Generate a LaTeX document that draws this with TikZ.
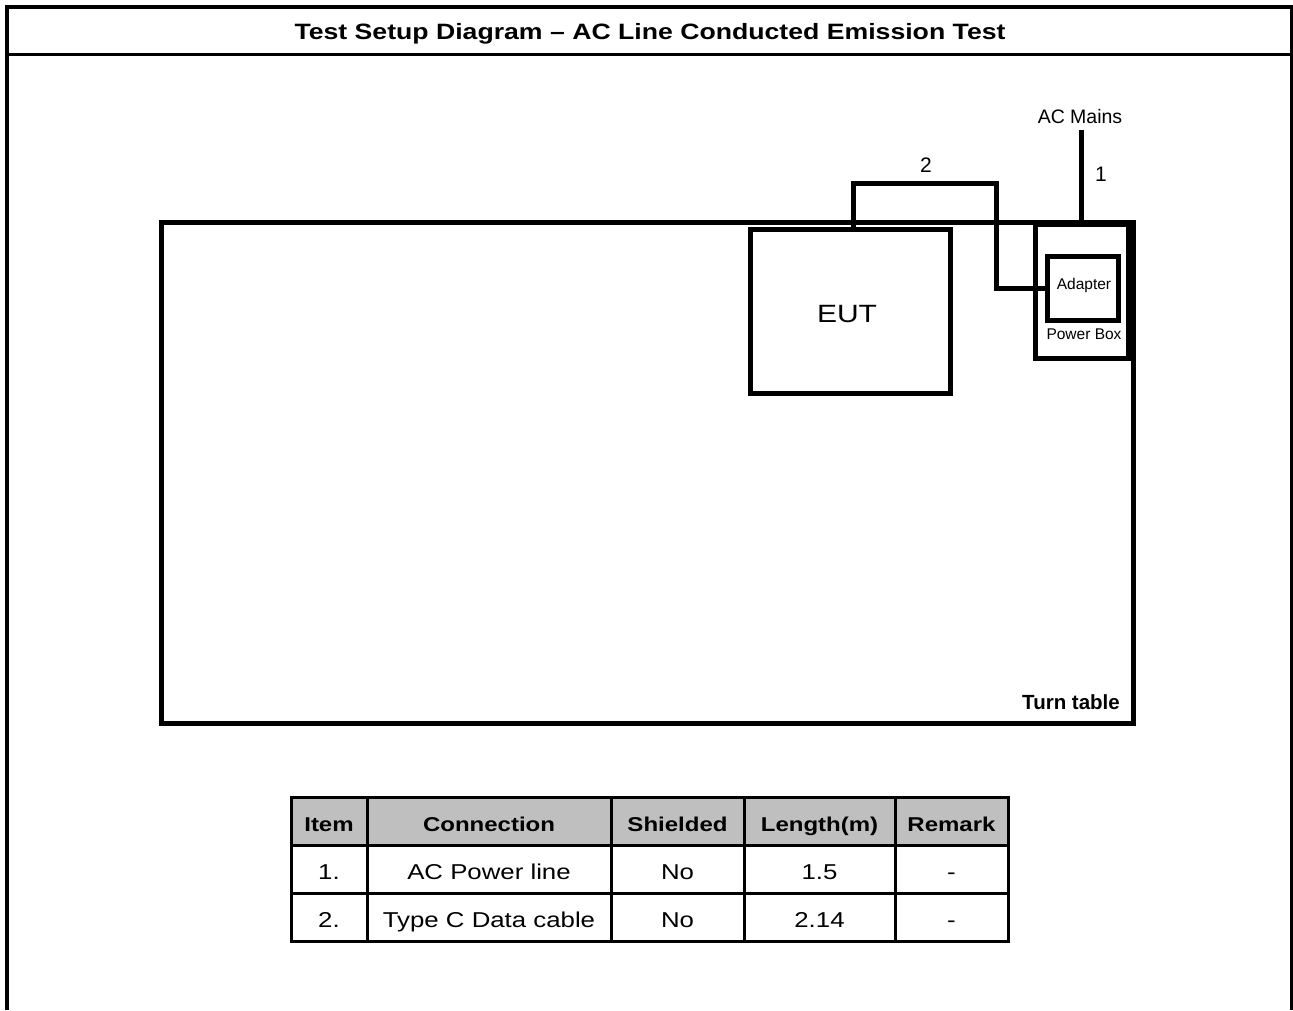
\documentclass[tikz,border=0pt]{standalone}
\usepackage{fontspec}
\defaultfontfeatures{Ligatures=TeX}
\setmainfont{Liberation Sans}
\newfontfamily\docfont[FakeStretch=1.2,Ligatures=TeX]{Liberation Sans}
\begin{document}
\begin{tikzpicture}[x=1pt,y=-1pt,
  frameline/.style={line width=4pt},
  thickbox/.style={draw,line width=5pt,inner sep=0pt,outer sep=0pt},
  cable/.style={line width=5pt},
  lbl/.style={inner sep=0pt,font=\fontsize{#1}{#1}\selectfont},
  hdr/.style={inner sep=0pt,anchor=base,font=\docfont\bfseries\fontsize{20}{24}\selectfont},
  cell/.style={inner sep=0pt,anchor=base,font=\docfont\fontsize{21.5}{25}\selectfont},
  tline/.style={line width=3pt}]
\useasboundingbox (0,0) rectangle (1293,1010);
% page frame
\draw[frameline] (7,1010) -- (7,7) -- (1291,7);
\draw[line width=3pt] (1291,5) -- (1291,1010);
\draw[line width=3pt] (7,54) -- (1291,54);
\node[inner sep=0pt,anchor=base,font=\docfont\bfseries\fontsize{22.2}{26}\selectfont] (title) at (650,39) {Test Setup Diagram – AC Line Conducted Emission Test};
% turn table
\node[thickbox,minimum width=972pt,minimum height=501pt] (tt) at (647,472.5) {};
\node[inner sep=0pt,font=\bfseries\fontsize{20.5}{21}\selectfont,anchor=base east] (ttl) at (1120,709) {Turn table};
% EUT
\node[thickbox,minimum width=200pt,minimum height=164pt] (eut) at (850,311) {};
\node[inner sep=0pt,anchor=base,font=\docfont\fontsize{25}{25}\selectfont] (eutl) at (847,322) {EUT};
% power box
\node[thickbox,minimum width=93pt,minimum height=134pt] (pbox) at (1081.5,291) {};
\node[thickbox,minimum width=71pt,minimum height=64pt] (adapter) at (1082.5,288) {};
\node[lbl=15.5] (adl) at (1084,285) {Adapter};
\node[lbl=15.5] (pbl) at (1084,334) {Power Box};
% AC mains
\node[lbl=19.5] (mains) at (1080,117) {AC Mains};
\coordinate (mtop) at (1081,130);
\draw[cable] (mtop) -- (mtop |- pbox.north);
\node[lbl=21] (n1) at (1101,174) {1};
% cable 2
\coordinate (c2) at (853,229);
\draw[cable] (c2) |- (996,183) |- (adapter.west);
\node[lbl=21] (n2) at (926,165) {2};
% table
\fill[gray!50] (291,797) rectangle (1008,845);
\draw[tline] (291,797) rectangle (1008,941);
\foreach \yy in {845,893} \draw[tline] (291,\yy) -- (1008,\yy);
\foreach \xx in {367,611,744,895} \draw[tline] (\xx,797) -- (\xx,941);
\node[hdr] (h1) at (329,831.5) {Item};
\node[hdr] (h2) at (489,831.5) {Connection};
\node[hdr] (h3) at (677.5,831.5) {Shielded};
\node[hdr] (h4) at (819.5,831.5) {Length(m)};
\node[hdr] (h5) at (951.5,831.5) {Remark};
\node[cell] (a1) at (329,879) {1.};
\node[cell] (a2) at (489,879) {AC Power line};
\node[cell] (a3) at (677.5,879) {No};
\node[cell] (a4) at (819.5,879) {1.5};
\node[cell] (a5) at (951.5,879) {-};
\node[cell] (b1) at (329,927) {2.};
\node[cell] (b2) at (489,927) {Type C Data cable};
\node[cell] (b3) at (677.5,927) {No};
\node[cell] (b4) at (819.5,927) {2.14};
\node[cell] (b5) at (951.5,927) {-};
\end{tikzpicture}
\end{document}
